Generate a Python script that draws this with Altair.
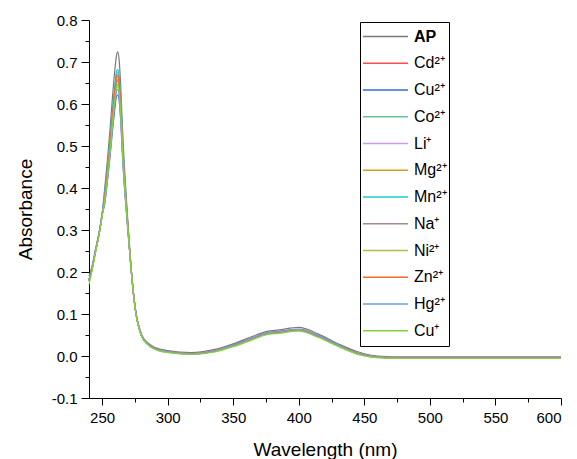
import altair as alt
import pandas as pd

wavelength = [240, 242, 245, 248, 250,
              252, 254, 256, 258, 260, 261, 262, 263, 264, 266, 268, 270,
              272, 274, 276, 278, 280, 285, 290, 300, 318, 335, 350, 365, 375, 385,
              400, 415, 430, 445, 460, 480, 520, 600]

ap = [0.190, 0.210, 0.255, 0.300, 0.340,
      0.400, 0.465, 0.538, 0.620, 0.690, 0.716, 0.724, 0.705, 0.655, 0.510, 0.400, 0.305,
      0.215, 0.148, 0.100, 0.072, 0.052, 0.031, 0.021, 0.013, 0.008, 0.015, 0.029, 0.047, 0.058, 0.062,
      0.068, 0.052, 0.029, 0.010, 0.000, -0.002, -0.002, -0.002]
cd2 = [0.180, 0.203, 0.250, 0.296, 0.336,
       0.374, 0.431, 0.495, 0.566, 0.627, 0.652, 0.655, 0.640, 0.597, 0.470, 0.374, 0.292,
       0.212, 0.146, 0.098, 0.069, 0.049, 0.028, 0.018, 0.010, 0.006, 0.011, 0.025, 0.042, 0.053, 0.057,
       0.062, 0.047, 0.025, 0.006, -0.003, -0.005, -0.005, -0.005]
cu2 = [0.182, 0.204, 0.251, 0.297, 0.336,
       0.362, 0.414, 0.473, 0.539, 0.596, 0.619, 0.622, 0.608, 0.568, 0.450, 0.362, 0.285,
       0.211, 0.146, 0.098, 0.069, 0.049, 0.028, 0.018, 0.010, 0.005, 0.011, 0.026, 0.043, 0.054, 0.058,
       0.063, 0.048, 0.026, 0.006, -0.003, -0.005, -0.005, -0.005]
co2 = [0.178, 0.202, 0.249, 0.296, 0.335,
       0.382, 0.441, 0.508, 0.582, 0.646, 0.671, 0.675, 0.660, 0.614, 0.482, 0.382, 0.296,
       0.212, 0.146, 0.098, 0.069, 0.049, 0.028, 0.018, 0.010, 0.005, 0.011, 0.025, 0.042, 0.053, 0.057,
       0.062, 0.047, 0.025, 0.006, -0.003, -0.005, -0.005, -0.005]
li1 = [0.180, 0.203, 0.250, 0.296, 0.335,
       0.369, 0.423, 0.485, 0.554, 0.613, 0.637, 0.640, 0.626, 0.584, 0.461, 0.369, 0.289,
       0.212, 0.146, 0.098, 0.069, 0.049, 0.028, 0.018, 0.010, 0.005, 0.011, 0.025, 0.042, 0.053, 0.057,
       0.062, 0.047, 0.025, 0.006, -0.003, -0.005, -0.005, -0.005]
mg2 = [0.179, 0.202, 0.250, 0.296, 0.335,
       0.375, 0.432, 0.496, 0.568, 0.630, 0.654, 0.658, 0.643, 0.599, 0.472, 0.375, 0.292,
       0.212, 0.146, 0.098, 0.069, 0.049, 0.028, 0.018, 0.010, 0.005, 0.011, 0.025, 0.042, 0.053, 0.057,
       0.062, 0.047, 0.025, 0.006, -0.003, -0.005, -0.005, -0.005]
mn2 = [0.181, 0.204, 0.251, 0.297, 0.336,
       0.385, 0.445, 0.512, 0.588, 0.652, 0.678, 0.682, 0.666, 0.620, 0.486, 0.385, 0.297,
       0.212, 0.146, 0.098, 0.069, 0.049, 0.028, 0.018, 0.010, 0.005, 0.011, 0.025, 0.042, 0.053, 0.057,
       0.062, 0.047, 0.025, 0.006, -0.003, -0.005, -0.005, -0.005]
na1 = [0.182, 0.205, 0.252, 0.297, 0.337,
       0.380, 0.439, 0.504, 0.578, 0.641, 0.666, 0.670, 0.655, 0.610, 0.479, 0.380, 0.295,
       0.213, 0.147, 0.099, 0.070, 0.050, 0.029, 0.019, 0.011, 0.006, 0.012, 0.026, 0.044, 0.055, 0.059,
       0.064, 0.049, 0.027, 0.007, -0.002, -0.004, -0.004, -0.004]
ni2 = [0.177, 0.201, 0.249, 0.295, 0.334,
       0.372, 0.427, 0.490, 0.560, 0.620, 0.644, 0.648, 0.633, 0.590, 0.466, 0.372, 0.290,
       0.211, 0.145, 0.097, 0.068, 0.048, 0.027, 0.017, 0.009, 0.005, 0.010, 0.024, 0.041, 0.052, 0.056,
       0.061, 0.046, 0.024, 0.005, -0.004, -0.005, -0.005, -0.005]
zn2 = [0.179, 0.203, 0.250, 0.296, 0.335,
       0.378, 0.436, 0.501, 0.574, 0.637, 0.662, 0.665, 0.650, 0.605, 0.476, 0.378, 0.294,
       0.212, 0.146, 0.098, 0.069, 0.049, 0.028, 0.018, 0.010, 0.005, 0.011, 0.025, 0.042, 0.053, 0.057,
       0.062, 0.047, 0.025, 0.006, -0.003, -0.005, -0.005, -0.005]
hg2 = [0.181, 0.204, 0.251, 0.297, 0.336,
       0.367, 0.421, 0.482, 0.550, 0.608, 0.631, 0.635, 0.621, 0.579, 0.458, 0.367, 0.287,
       0.212, 0.146, 0.098, 0.069, 0.049, 0.028, 0.018, 0.010, 0.005, 0.011, 0.025, 0.043, 0.054, 0.058,
       0.063, 0.048, 0.026, 0.006, -0.003, -0.005, -0.005, -0.005]
cu1 = [0.170, 0.198, 0.246, 0.293, 0.333,
       0.370, 0.426, 0.488, 0.558, 0.617, 0.641, 0.645, 0.630, 0.588, 0.464, 0.370, 0.289,
       0.210, 0.144, 0.096, 0.067, 0.047, 0.026, 0.016, 0.008, 0.004, 0.009, 0.022, 0.039, 0.050, 0.054,
       0.059, 0.044, 0.023, 0.004, -0.004, -0.006, -0.006, -0.006]

series_names = ["AP", "Cd²⁺", "Cu²⁺", "Co²⁺", "Li⁺", "Mg²⁺", "Mn²⁺",
                "Na⁺", "Ni²⁺", "Zn²⁺", "Hg²⁺", "Cu⁺"]
series_values = [ap, cd2, cu2, co2, li1, mg2, mn2, na1, ni2, zn2, hg2, cu1]
series_colors = ["#7a7a7a", "#ff4b4b", "#2f6fd6", "#66c39a", "#c99cf0", "#d4a017",
                 "#22c7d1", "#a88a8a", "#b5b84a", "#f46a2a", "#6e9ee0", "#86d23c"]

x_major = [250, 300, 350, 400, 450, 500, 550, 600]
x_minor = [275, 325, 375, 425, 475, 525, 575]
y_major = [-0.1, 0.0, 0.1, 0.2, 0.3, 0.4, 0.5, 0.6, 0.7, 0.8]
y_minor = [-0.05, 0.05, 0.15, 0.25, 0.35, 0.45, 0.55, 0.65, 0.75]

rows = []
for order, (name, vals) in enumerate(zip(series_names, series_values)):
    for w, v in zip(wavelength, vals):
        rows.append({"wl": w, "abs": v, "ion": name, "k": order})
df = pd.DataFrame(rows)

xscale = alt.Scale(domain=[240, 600], nice=False, zero=False)
yscale = alt.Scale(domain=[-0.1, 0.8], nice=False, zero=False)

lines = alt.Chart(df).mark_line(strokeWidth=1.2, interpolate="monotone").encode(
    x=alt.X("wl:Q", scale=xscale,
            axis=alt.Axis(values=x_major, title="Wavelength (nm)", tickSize=7,
                          labelPadding=5, titlePadding=15, grid=False, format="d")),
    y=alt.Y("abs:Q", scale=yscale,
            axis=alt.Axis(values=y_major, title="Absorbance", tickSize=8,
                          labelPadding=4, titlePadding=16, grid=False,
                          labelExpr="datum.value < -0.00001 ? '-' + format(-datum.value, '.1f') : format(datum.value, '.1f')")),
    color=alt.Color("ion:N", sort=series_names,
                    scale=alt.Scale(domain=series_names, range=series_colors),
                    legend=alt.Legend(orient="none", legendX=271, legendY=2, title=None,
                                      symbolType="stroke", symbolSize=2025, symbolStrokeWidth=1.5,
                                      labelFontSize=16, labelOffset=5, clipHeight=25,
                                      rowPadding=1.75, padding=2, strokeColor="black",
                                      fillColor="white", labelColor="black",
                                      labelFontWeight=alt.ExprRef("datum.label == 'AP' ? 'bold' : 'normal'"))),
    order=alt.Order("k:Q"),
    detail="ion:N",
)

minor = alt.Chart(df).mark_point(opacity=0).encode(
    x=alt.X("wl:Q", scale=xscale,
            axis=alt.Axis(values=x_minor, labels=False, domain=False, tickSize=4,
                          orient="bottom", title="", grid=False)),
    y=alt.Y("abs:Q", scale=yscale,
            axis=alt.Axis(values=y_minor, labels=False, domain=False, tickSize=4,
                          orient="left", title="", grid=False)),
)

chart = alt.layer(lines, minor).resolve_axis(x="independent", y="independent").properties(
    width=472, height=378,
    padding={"left": 8, "top": 5, "right": 5, "bottom": 2},
).configure(font="Liberation Sans").configure_view(stroke=None).configure_axis(
    labelFontSize=15, titleFontSize=19, titleFontWeight="normal",
    labelColor="black", titleColor="black", tickColor="black", domainColor="black",
    labelFont="Liberation Sans", titleFont="Liberation Sans", domainWidth=1, tickWidth=1,
).configure_legend(labelFont="Liberation Sans")

chart.save("out.html", embed_options={"renderer": "svg", "actions": False})
